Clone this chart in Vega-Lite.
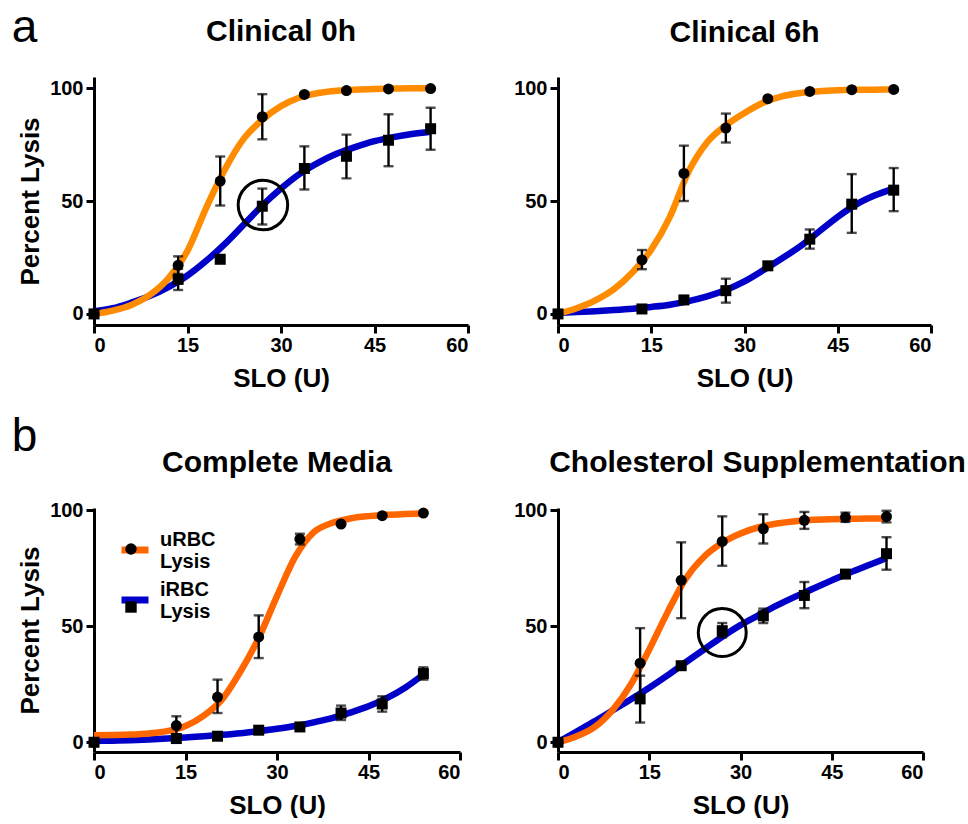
{
"$schema": "https://vega.github.io/schema/vega-lite/v6.json",
"background": "white",
"padding": {"left": 11, "top": 5, "right": 0, "bottom": 0},
"datasets": {
"curves": [
{"p":"c0","s":"iRBC Lysis","x":0,"y":1.2},{"p":"c0","s":"iRBC Lysis","x":3,"y":2.5},{"p":"c0","s":"iRBC Lysis","x":6,"y":5},{"p":"c0","s":"iRBC Lysis","x":9,"y":8},{"p":"c0","s":"iRBC Lysis","x":12,"y":12},{"p":"c0","s":"iRBC Lysis","x":15,"y":17},{"p":"c0","s":"iRBC Lysis","x":18,"y":23.5},{"p":"c0","s":"iRBC Lysis","x":21,"y":31},{"p":"c0","s":"iRBC Lysis","x":24,"y":39.5},{"p":"c0","s":"iRBC Lysis","x":27,"y":48},{"p":"c0","s":"iRBC Lysis","x":30,"y":55.5},{"p":"c0","s":"iRBC Lysis","x":33,"y":62},{"p":"c0","s":"iRBC Lysis","x":36,"y":67},{"p":"c0","s":"iRBC Lysis","x":39,"y":71},{"p":"c0","s":"iRBC Lysis","x":42,"y":74},{"p":"c0","s":"iRBC Lysis","x":45,"y":76.5},{"p":"c0","s":"iRBC Lysis","x":48,"y":78.3},{"p":"c0","s":"iRBC Lysis","x":51,"y":79.7},{"p":"c0","s":"iRBC Lysis","x":54,"y":80.7},
{"p":"c0","s":"uRBC Lysis","x":0,"y":0},{"p":"c0","s":"uRBC Lysis","x":3,"y":1.5},{"p":"c0","s":"uRBC Lysis","x":6,"y":4},{"p":"c0","s":"uRBC Lysis","x":9,"y":8.5},{"p":"c0","s":"uRBC Lysis","x":12,"y":16},{"p":"c0","s":"uRBC Lysis","x":15,"y":28},{"p":"c0","s":"uRBC Lysis","x":18,"y":47},{"p":"c0","s":"uRBC Lysis","x":21,"y":64},{"p":"c0","s":"uRBC Lysis","x":24,"y":77.5},{"p":"c0","s":"uRBC Lysis","x":27,"y":86},{"p":"c0","s":"uRBC Lysis","x":30,"y":92},{"p":"c0","s":"uRBC Lysis","x":33,"y":95.8},{"p":"c0","s":"uRBC Lysis","x":36,"y":97.8},{"p":"c0","s":"uRBC Lysis","x":39,"y":98.8},{"p":"c0","s":"uRBC Lysis","x":42,"y":99.3},{"p":"c0","s":"uRBC Lysis","x":45,"y":99.6},{"p":"c0","s":"uRBC Lysis","x":48,"y":99.8},{"p":"c0","s":"uRBC Lysis","x":51,"y":99.9},{"p":"c0","s":"uRBC Lysis","x":54,"y":99.9},
{"p":"c6","s":"iRBC Lysis","x":0,"y":0.5},{"p":"c6","s":"iRBC Lysis","x":3,"y":0.8},{"p":"c6","s":"iRBC Lysis","x":6,"y":1.2},{"p":"c6","s":"iRBC Lysis","x":9,"y":1.7},{"p":"c6","s":"iRBC Lysis","x":12,"y":2.3},{"p":"c6","s":"iRBC Lysis","x":15,"y":3.1},{"p":"c6","s":"iRBC Lysis","x":18,"y":4.1},{"p":"c6","s":"iRBC Lysis","x":21,"y":5.7},{"p":"c6","s":"iRBC Lysis","x":24,"y":7.8},{"p":"c6","s":"iRBC Lysis","x":27,"y":10.6},{"p":"c6","s":"iRBC Lysis","x":30,"y":14.4},{"p":"c6","s":"iRBC Lysis","x":33,"y":19.3},{"p":"c6","s":"iRBC Lysis","x":36,"y":24.5},{"p":"c6","s":"iRBC Lysis","x":39,"y":30},{"p":"c6","s":"iRBC Lysis","x":42,"y":36.5},{"p":"c6","s":"iRBC Lysis","x":45,"y":43},{"p":"c6","s":"iRBC Lysis","x":48,"y":48.5},{"p":"c6","s":"iRBC Lysis","x":51,"y":52.5},{"p":"c6","s":"iRBC Lysis","x":54,"y":55.5},
{"p":"c6","s":"uRBC Lysis","x":0,"y":0},{"p":"c6","s":"uRBC Lysis","x":3,"y":2.5},{"p":"c6","s":"uRBC Lysis","x":6,"y":6},{"p":"c6","s":"uRBC Lysis","x":9,"y":11},{"p":"c6","s":"uRBC Lysis","x":12,"y":18.5},{"p":"c6","s":"uRBC Lysis","x":15,"y":28.5},{"p":"c6","s":"uRBC Lysis","x":18,"y":43},{"p":"c6","s":"uRBC Lysis","x":21,"y":63},{"p":"c6","s":"uRBC Lysis","x":24,"y":76},{"p":"c6","s":"uRBC Lysis","x":27,"y":83.5},{"p":"c6","s":"uRBC Lysis","x":30,"y":89},{"p":"c6","s":"uRBC Lysis","x":33,"y":93.5},{"p":"c6","s":"uRBC Lysis","x":36,"y":96.3},{"p":"c6","s":"uRBC Lysis","x":39,"y":97.8},{"p":"c6","s":"uRBC Lysis","x":42,"y":98.6},{"p":"c6","s":"uRBC Lysis","x":45,"y":99},{"p":"c6","s":"uRBC Lysis","x":48,"y":99.2},{"p":"c6","s":"uRBC Lysis","x":51,"y":99.3},{"p":"c6","s":"uRBC Lysis","x":54,"y":99.4},
{"p":"cm","s":"iRBC Lysis","x":0,"y":0.5},{"p":"cm","s":"iRBC Lysis","x":3,"y":0.7},{"p":"cm","s":"iRBC Lysis","x":6,"y":0.9},{"p":"cm","s":"iRBC Lysis","x":9,"y":1.2},{"p":"cm","s":"iRBC Lysis","x":12,"y":1.6},{"p":"cm","s":"iRBC Lysis","x":15,"y":2.1},{"p":"cm","s":"iRBC Lysis","x":18,"y":2.6},{"p":"cm","s":"iRBC Lysis","x":21,"y":3.2},{"p":"cm","s":"iRBC Lysis","x":24,"y":3.9},{"p":"cm","s":"iRBC Lysis","x":27,"y":4.8},{"p":"cm","s":"iRBC Lysis","x":30,"y":5.8},{"p":"cm","s":"iRBC Lysis","x":33,"y":7},{"p":"cm","s":"iRBC Lysis","x":36,"y":8.6},{"p":"cm","s":"iRBC Lysis","x":39,"y":10.4},{"p":"cm","s":"iRBC Lysis","x":42,"y":12.8},{"p":"cm","s":"iRBC Lysis","x":45,"y":15.5},{"p":"cm","s":"iRBC Lysis","x":48,"y":19},{"p":"cm","s":"iRBC Lysis","x":51,"y":23.5},{"p":"cm","s":"iRBC Lysis","x":54,"y":29.2},
{"p":"cm","s":"uRBC Lysis","x":0,"y":3},{"p":"cm","s":"uRBC Lysis","x":3,"y":3.1},{"p":"cm","s":"uRBC Lysis","x":6,"y":3.3},{"p":"cm","s":"uRBC Lysis","x":9,"y":3.8},{"p":"cm","s":"uRBC Lysis","x":12,"y":4.8},{"p":"cm","s":"uRBC Lysis","x":15,"y":7},{"p":"cm","s":"uRBC Lysis","x":18,"y":11.5},{"p":"cm","s":"uRBC Lysis","x":21,"y":18.5},{"p":"cm","s":"uRBC Lysis","x":24,"y":30.5},{"p":"cm","s":"uRBC Lysis","x":27,"y":45},{"p":"cm","s":"uRBC Lysis","x":30,"y":63},{"p":"cm","s":"uRBC Lysis","x":33,"y":80},{"p":"cm","s":"uRBC Lysis","x":36,"y":90.5},{"p":"cm","s":"uRBC Lysis","x":39,"y":94.5},{"p":"cm","s":"uRBC Lysis","x":42,"y":96.5},{"p":"cm","s":"uRBC Lysis","x":45,"y":97.5},{"p":"cm","s":"uRBC Lysis","x":48,"y":98.1},{"p":"cm","s":"uRBC Lysis","x":51,"y":98.4},{"p":"cm","s":"uRBC Lysis","x":54,"y":98.6},
{"p":"cs","s":"iRBC Lysis","x":0,"y":0},{"p":"cs","s":"iRBC Lysis","x":3,"y":4.5},{"p":"cs","s":"iRBC Lysis","x":6,"y":9},{"p":"cs","s":"iRBC Lysis","x":9,"y":13.8},{"p":"cs","s":"iRBC Lysis","x":12,"y":18.5},{"p":"cs","s":"iRBC Lysis","x":15,"y":23.5},{"p":"cs","s":"iRBC Lysis","x":18,"y":28.8},{"p":"cs","s":"iRBC Lysis","x":21,"y":34.5},{"p":"cs","s":"iRBC Lysis","x":24,"y":40},{"p":"cs","s":"iRBC Lysis","x":27,"y":45.5},{"p":"cs","s":"iRBC Lysis","x":30,"y":50.5},{"p":"cs","s":"iRBC Lysis","x":33,"y":54.8},{"p":"cs","s":"iRBC Lysis","x":36,"y":59},{"p":"cs","s":"iRBC Lysis","x":39,"y":62.8},{"p":"cs","s":"iRBC Lysis","x":42,"y":66.3},{"p":"cs","s":"iRBC Lysis","x":45,"y":69.8},{"p":"cs","s":"iRBC Lysis","x":48,"y":73.2},{"p":"cs","s":"iRBC Lysis","x":51,"y":76.3},{"p":"cs","s":"iRBC Lysis","x":54,"y":79.4},
{"p":"cs","s":"uRBC Lysis","x":0,"y":0},{"p":"cs","s":"uRBC Lysis","x":3,"y":2.5},{"p":"cs","s":"uRBC Lysis","x":6,"y":6.5},{"p":"cs","s":"uRBC Lysis","x":9,"y":14},{"p":"cs","s":"uRBC Lysis","x":12,"y":25},{"p":"cs","s":"uRBC Lysis","x":15,"y":40},{"p":"cs","s":"uRBC Lysis","x":18,"y":56},{"p":"cs","s":"uRBC Lysis","x":21,"y":70.5},{"p":"cs","s":"uRBC Lysis","x":24,"y":80},{"p":"cs","s":"uRBC Lysis","x":27,"y":86},{"p":"cs","s":"uRBC Lysis","x":30,"y":90},{"p":"cs","s":"uRBC Lysis","x":33,"y":92.7},{"p":"cs","s":"uRBC Lysis","x":36,"y":94.3},{"p":"cs","s":"uRBC Lysis","x":39,"y":95.3},{"p":"cs","s":"uRBC Lysis","x":42,"y":95.9},{"p":"cs","s":"uRBC Lysis","x":45,"y":96.2},{"p":"cs","s":"uRBC Lysis","x":48,"y":96.4},{"p":"cs","s":"uRBC Lysis","x":51,"y":96.5},{"p":"cs","s":"uRBC Lysis","x":54,"y":96.5}
],
"pts": [
{"p":"c0","s":"uRBC Lysis","x":0,"y":0,"lo":0,"hi":0},{"p":"c0","s":"uRBC Lysis","x":13.5,"y":21.5,"lo":17.7,"hi":25.5},{"p":"c0","s":"uRBC Lysis","x":20.25,"y":58.8,"lo":48,"hi":69.7},{"p":"c0","s":"uRBC Lysis","x":27,"y":87.3,"lo":77.3,"hi":97.3},{"p":"c0","s":"uRBC Lysis","x":33.75,"y":97.2,"lo":97.2,"hi":97.2},{"p":"c0","s":"uRBC Lysis","x":40.5,"y":98.9,"lo":98.9,"hi":98.9},{"p":"c0","s":"uRBC Lysis","x":47.25,"y":99.6,"lo":99.6,"hi":99.6},{"p":"c0","s":"uRBC Lysis","x":54,"y":99.8,"lo":99.8,"hi":99.8},
{"p":"c0","s":"iRBC Lysis","x":0,"y":0,"lo":0,"hi":0},{"p":"c0","s":"iRBC Lysis","x":13.5,"y":15.3,"lo":10.6,"hi":20},{"p":"c0","s":"iRBC Lysis","x":20.25,"y":24.2,"lo":24.2,"hi":24.2},{"p":"c0","s":"iRBC Lysis","x":27,"y":47.7,"lo":39.6,"hi":55.5},{"p":"c0","s":"iRBC Lysis","x":33.75,"y":64.4,"lo":55.1,"hi":74.2},{"p":"c0","s":"iRBC Lysis","x":40.5,"y":69.8,"lo":60,"hi":79.4},{"p":"c0","s":"iRBC Lysis","x":47.25,"y":76.9,"lo":65.4,"hi":88.4},{"p":"c0","s":"iRBC Lysis","x":54,"y":82,"lo":72.7,"hi":91.3},
{"p":"c6","s":"uRBC Lysis","x":0,"y":0,"lo":0,"hi":0},{"p":"c6","s":"uRBC Lysis","x":13.5,"y":23.9,"lo":19.8,"hi":28.3},{"p":"c6","s":"uRBC Lysis","x":20.25,"y":62.2,"lo":50,"hi":74.5},{"p":"c6","s":"uRBC Lysis","x":27,"y":82.3,"lo":75.9,"hi":88.7},{"p":"c6","s":"uRBC Lysis","x":33.75,"y":95.3,"lo":95.3,"hi":95.3},{"p":"c6","s":"uRBC Lysis","x":40.5,"y":98.5,"lo":98.5,"hi":98.5},{"p":"c6","s":"uRBC Lysis","x":47.25,"y":99.3,"lo":99.3,"hi":99.3},{"p":"c6","s":"uRBC Lysis","x":54,"y":99.4,"lo":99.4,"hi":99.4},
{"p":"c6","s":"iRBC Lysis","x":0,"y":0,"lo":0,"hi":0},{"p":"c6","s":"iRBC Lysis","x":13.5,"y":2.2,"lo":2.2,"hi":2.2},{"p":"c6","s":"iRBC Lysis","x":20.25,"y":6.2,"lo":6.2,"hi":6.2},{"p":"c6","s":"iRBC Lysis","x":27,"y":10.3,"lo":5,"hi":15.6},{"p":"c6","s":"iRBC Lysis","x":33.75,"y":21.3,"lo":21.3,"hi":21.3},{"p":"c6","s":"iRBC Lysis","x":40.5,"y":33.1,"lo":28.9,"hi":37.4},{"p":"c6","s":"iRBC Lysis","x":47.25,"y":48.6,"lo":35.9,"hi":61.9},{"p":"c6","s":"iRBC Lysis","x":54,"y":54.8,"lo":45.5,"hi":64.6},
{"p":"cm","s":"uRBC Lysis","x":0,"y":0,"lo":0,"hi":0},{"p":"cm","s":"uRBC Lysis","x":13.5,"y":7.2,"lo":3.3,"hi":11.2},{"p":"cm","s":"uRBC Lysis","x":20.25,"y":19.5,"lo":12.6,"hi":27},{"p":"cm","s":"uRBC Lysis","x":27,"y":45.4,"lo":36.3,"hi":54.7},{"p":"cm","s":"uRBC Lysis","x":33.75,"y":87.6,"lo":85.3,"hi":89.9},{"p":"cm","s":"uRBC Lysis","x":40.5,"y":94.1,"lo":94.1,"hi":94.1},{"p":"cm","s":"uRBC Lysis","x":47.25,"y":97.7,"lo":97.7,"hi":97.7},{"p":"cm","s":"uRBC Lysis","x":54,"y":98.8,"lo":98.8,"hi":98.8},
{"p":"cm","s":"iRBC Lysis","x":0,"y":0,"lo":0,"hi":0},{"p":"cm","s":"iRBC Lysis","x":13.5,"y":1.6,"lo":1.6,"hi":1.6},{"p":"cm","s":"iRBC Lysis","x":20.25,"y":2.6,"lo":2.6,"hi":2.6},{"p":"cm","s":"iRBC Lysis","x":27,"y":5.2,"lo":5.2,"hi":5.2},{"p":"cm","s":"iRBC Lysis","x":33.75,"y":6.6,"lo":6.6,"hi":6.6},{"p":"cm","s":"iRBC Lysis","x":40.5,"y":12.6,"lo":9.6,"hi":15.8},{"p":"cm","s":"iRBC Lysis","x":47.25,"y":16.5,"lo":13.2,"hi":19.8},{"p":"cm","s":"iRBC Lysis","x":54,"y":29.6,"lo":27,"hi":32.3},
{"p":"cs","s":"uRBC Lysis","x":0,"y":0,"lo":0,"hi":0},{"p":"cs","s":"uRBC Lysis","x":13.5,"y":34.1,"lo":19,"hi":49.2},{"p":"cs","s":"uRBC Lysis","x":20.25,"y":69.8,"lo":53.5,"hi":86.2},{"p":"cs","s":"uRBC Lysis","x":27,"y":86.6,"lo":76.1,"hi":97.4},{"p":"cs","s":"uRBC Lysis","x":33.75,"y":92,"lo":85.7,"hi":98.3},{"p":"cs","s":"uRBC Lysis","x":40.5,"y":95.7,"lo":92,"hi":99.3},{"p":"cs","s":"uRBC Lysis","x":47.25,"y":97,"lo":95,"hi":99},{"p":"cs","s":"uRBC Lysis","x":54,"y":97.3,"lo":94.8,"hi":99.8},
{"p":"cs","s":"iRBC Lysis","x":0,"y":0,"lo":0,"hi":0},{"p":"cs","s":"iRBC Lysis","x":13.5,"y":18.7,"lo":8.5,"hi":28.7},{"p":"cs","s":"iRBC Lysis","x":20.25,"y":33,"lo":33,"hi":33},{"p":"cs","s":"iRBC Lysis","x":27,"y":48.1,"lo":45.2,"hi":51.4},{"p":"cs","s":"iRBC Lysis","x":33.75,"y":54.5,"lo":51.4,"hi":57.6},{"p":"cs","s":"iRBC Lysis","x":40.5,"y":63.3,"lo":57.8,"hi":69.1},{"p":"cs","s":"iRBC Lysis","x":47.25,"y":72.5,"lo":71.3,"hi":73.7},{"p":"cs","s":"iRBC Lysis","x":54,"y":81.3,"lo":74.4,"hi":88.4}
],
"hl": [{"p":"c0","x":27.1,"y":48.2},{"p":"cs","x":27,"y":47.3}]
},
"vconcat": [
{
"title": {"text": "a", "fontSize": 46, "fontWeight": "normal", "anchor": "start", "offset": -35, "dx": -6, "frame": "bounds"},
"spacing": 90, "bounds": "flush",
"resolve": {"scale": {"stroke": "independent", "shape": "independent"}, "legend": {"stroke": "independent", "shape": "independent"}},
"hconcat": [
{"width": 374, "height": 248, "title": {"text": "Clinical 0h", "offset": 28},
"layer": [
{"data": {"name": "curves"}, "transform": [{"filter": "datum.p == 'c0'"}],
"mark": {"type": "line", "strokeWidth": 6.5, "interpolate": "monotone"},
"encoding": {
"x": {"field": "x", "type": "quantitative", "scale": {"domain": [0, 60], "nice": false, "zero": false}, "axis": {"values": [0, 15, 30, 45, 60], "title": "SLO (U)", "labelPadding": 2, "titlePadding": 10}},
"y": {"field": "y", "type": "quantitative", "scale": {"domain": [-4.9, 104.9], "nice": false, "zero": false}, "axis": {"values": [0, 50, 100], "title": "Percent Lysis", "labelPadding": 3, "titlePadding": 6}},
"stroke": {"field": "s", "type": "nominal", "scale": {"domain": ["uRBC Lysis", "iRBC Lysis"], "range": ["#FF8C00", "#0000C8"]}, "legend": null}}},
{"data": {"name": "pts"}, "transform": [{"filter": "datum.p == 'c0' && datum.hi > datum.lo"}],
"mark": {"type": "errorbar", "ticks": true, "size": 10, "thickness": 2.4, "color": "black"},
"encoding": {"x": {"field": "x", "type": "quantitative", "scale": {"domain": [0, 60], "nice": false, "zero": false}, "axis": {"values": [0, 15, 30, 45, 60], "title": "SLO (U)", "labelPadding": 2, "titlePadding": 10}}, "y": {"field": "lo", "type": "quantitative", "scale": {"domain": [-4.9, 104.9], "nice": false, "zero": false}, "axis": {"values": [0, 50, 100], "title": "Percent Lysis", "labelPadding": 3, "titlePadding": 6}}, "y2": {"field": "hi"}}},
{"data": {"name": "pts"}, "transform": [{"filter": "datum.p == 'c0'"}],
"mark": {"type": "point", "filled": true, "color": "black", "size": 121, "opacity": 1},
"encoding": {"x": {"field": "x", "type": "quantitative", "scale": {"domain": [0, 60], "nice": false, "zero": false}, "axis": {"values": [0, 15, 30, 45, 60], "title": "SLO (U)", "labelPadding": 2, "titlePadding": 10}}, "y": {"field": "y", "type": "quantitative", "scale": {"domain": [-4.9, 104.9], "nice": false, "zero": false}, "axis": {"values": [0, 50, 100], "title": "Percent Lysis", "labelPadding": 3, "titlePadding": 6}}, "shape": {"field": "s", "type": "nominal", "sort": "descending", "scale": {"range": ["circle", "square"]}, "legend": null}}},
{"data": {"name": "hl"}, "transform": [{"filter": "datum.p == 'c0'"}],
"mark": {"type": "point", "filled": false, "color": "black", "strokeWidth": 3, "size": 2450, "shape": "circle", "opacity": 1},
"encoding": {"x": {"field": "x", "type": "quantitative", "scale": {"domain": [0, 60], "nice": false, "zero": false}, "axis": {"values": [0, 15, 30, 45, 60], "title": "SLO (U)", "labelPadding": 2, "titlePadding": 10}}, "y": {"field": "y", "type": "quantitative", "scale": {"domain": [-4.9, 104.9], "nice": false, "zero": false}, "axis": {"values": [0, 50, 100], "title": "Percent Lysis", "labelPadding": 3, "titlePadding": 6}}}}
]},
{"width": 373, "height": 248, "title": {"text": "Clinical 6h", "offset": 28},
"layer": [
{"data": {"name": "curves"}, "transform": [{"filter": "datum.p == 'c6'"}],
"mark": {"type": "line", "strokeWidth": 6.5, "interpolate": "monotone"},
"encoding": {
"x": {"field": "x", "type": "quantitative", "scale": {"domain": [0, 60], "nice": false, "zero": false}, "axis": {"values": [0, 15, 30, 45, 60], "title": "SLO (U)", "labelPadding": 2, "titlePadding": 10}},
"y": {"field": "y", "type": "quantitative", "scale": {"domain": [-4.9, 104.9], "nice": false, "zero": false}, "axis": {"values": [0, 50, 100], "title": null, "labelPadding": 3}},
"stroke": {"field": "s", "type": "nominal", "scale": {"domain": ["uRBC Lysis", "iRBC Lysis"], "range": ["#FF8C00", "#0000C8"]}, "legend": null}}},
{"data": {"name": "pts"}, "transform": [{"filter": "datum.p == 'c6' && datum.hi > datum.lo"}],
"mark": {"type": "errorbar", "ticks": true, "size": 10, "thickness": 2.4, "color": "black"},
"encoding": {"x": {"field": "x", "type": "quantitative", "scale": {"domain": [0, 60], "nice": false, "zero": false}, "axis": {"values": [0, 15, 30, 45, 60], "title": "SLO (U)", "labelPadding": 2, "titlePadding": 10}}, "y": {"field": "lo", "type": "quantitative", "scale": {"domain": [-4.9, 104.9], "nice": false, "zero": false}, "axis": {"values": [0, 50, 100], "title": null, "labelPadding": 3}}, "y2": {"field": "hi"}}},
{"data": {"name": "pts"}, "transform": [{"filter": "datum.p == 'c6'"}],
"mark": {"type": "point", "filled": true, "color": "black", "size": 121, "opacity": 1},
"encoding": {"x": {"field": "x", "type": "quantitative", "scale": {"domain": [0, 60], "nice": false, "zero": false}, "axis": {"values": [0, 15, 30, 45, 60], "title": "SLO (U)", "labelPadding": 2, "titlePadding": 10}}, "y": {"field": "y", "type": "quantitative", "scale": {"domain": [-4.9, 104.9], "nice": false, "zero": false}, "axis": {"values": [0, 50, 100], "title": null, "labelPadding": 3}}, "shape": {"field": "s", "type": "nominal", "sort": "descending", "scale": {"range": ["circle", "square"]}, "legend": null}}}
]}
]},
{
"title": {"text": "b", "fontSize": 46, "fontWeight": "normal", "anchor": "start", "offset": -13, "dx": -6, "frame": "bounds"},
"spacing": 98, "bounds": "flush",
"resolve": {"scale": {"stroke": "independent", "shape": "independent"}, "legend": {"stroke": "independent", "shape": "independent"}},
"hconcat": [
{"width": 366, "height": 244, "title": {"text": "Complete Media", "offset": 22},
"layer": [
{"data": {"name": "curves"}, "transform": [{"filter": "datum.p == 'cm'"}],
"mark": {"type": "line", "strokeWidth": 6.5, "interpolate": "monotone"},
"encoding": {
"x": {"field": "x", "type": "quantitative", "scale": {"domain": [0, 60], "nice": false, "zero": false}, "axis": {"values": [0, 15, 30, 45, 60], "title": "SLO (U)", "labelPadding": 2, "titlePadding": 10}},
"y": {"field": "y", "type": "quantitative", "scale": {"domain": [-4.2, 101], "nice": false, "zero": false}, "axis": {"values": [0, 50, 100], "title": "Percent Lysis", "labelPadding": 3, "titlePadding": 6}},
"stroke": {"field": "s", "type": "nominal", "scale": {"domain": ["uRBC Lysis", "iRBC Lysis"], "range": ["#FF6600", "#0000C8"]},
"legend": {"orient": "none", "legendX": 24, "legendY": 25, "title": null, "symbolType": "stroke", "symbolStrokeWidth": 7, "symbolSize": 729, "labelFontSize": 20, "labelFontWeight": "bold", "labelColor": "black", "labelExpr": "split(datum.label, ' ')", "labelBaseline": "bottom", "labelOffset": 8, "rowPadding": 8}}}},
{"data": {"name": "pts"}, "transform": [{"filter": "datum.p == 'cm' && datum.hi > datum.lo"}],
"mark": {"type": "errorbar", "ticks": true, "size": 10, "thickness": 2.4, "color": "black"},
"encoding": {"x": {"field": "x", "type": "quantitative", "scale": {"domain": [0, 60], "nice": false, "zero": false}, "axis": {"values": [0, 15, 30, 45, 60], "title": "SLO (U)", "labelPadding": 2, "titlePadding": 10}}, "y": {"field": "lo", "type": "quantitative", "scale": {"domain": [-4.2, 101], "nice": false, "zero": false}, "axis": {"values": [0, 50, 100], "title": "Percent Lysis", "labelPadding": 3, "titlePadding": 6}}, "y2": {"field": "hi"}}},
{"data": {"name": "pts"}, "transform": [{"filter": "datum.p == 'cm'"}],
"mark": {"type": "point", "filled": true, "color": "black", "size": 121, "opacity": 1},
"encoding": {"x": {"field": "x", "type": "quantitative", "scale": {"domain": [0, 60], "nice": false, "zero": false}, "axis": {"values": [0, 15, 30, 45, 60], "title": "SLO (U)", "labelPadding": 2, "titlePadding": 10}}, "y": {"field": "y", "type": "quantitative", "scale": {"domain": [-4.2, 101], "nice": false, "zero": false}, "axis": {"values": [0, 50, 100], "title": "Percent Lysis", "labelPadding": 3, "titlePadding": 6}}, "shape": {"field": "s", "type": "nominal", "sort": "descending", "scale": {"range": ["circle", "square"]},
"legend": {"orient": "none", "legendX": 31, "legendY": 35, "title": null, "labelExpr": "''", "symbolFillColor": "black", "symbolStrokeColor": "black", "symbolStrokeWidth": 0, "symbolSize": 130, "rowPadding": 46}}}}
]},
{"width": 365, "height": 244, "title": {"text": "Cholesterol Supplementation", "offset": 22, "dx": 17},
"layer": [
{"data": {"name": "curves"}, "transform": [{"filter": "datum.p == 'cs'"}],
"mark": {"type": "line", "strokeWidth": 6.5, "interpolate": "monotone"},
"encoding": {
"x": {"field": "x", "type": "quantitative", "scale": {"domain": [0, 60], "nice": false, "zero": false}, "axis": {"values": [0, 15, 30, 45, 60], "title": "SLO (U)", "labelPadding": 2, "titlePadding": 10}},
"y": {"field": "y", "type": "quantitative", "scale": {"domain": [-4.2, 101], "nice": false, "zero": false}, "axis": {"values": [0, 50, 100], "title": null, "labelPadding": 3}},
"stroke": {"field": "s", "type": "nominal", "scale": {"domain": ["uRBC Lysis", "iRBC Lysis"], "range": ["#FF6600", "#0000C8"]}, "legend": null}}},
{"data": {"name": "pts"}, "transform": [{"filter": "datum.p == 'cs' && datum.hi > datum.lo"}],
"mark": {"type": "errorbar", "ticks": true, "size": 10, "thickness": 2.4, "color": "black"},
"encoding": {"x": {"field": "x", "type": "quantitative", "scale": {"domain": [0, 60], "nice": false, "zero": false}, "axis": {"values": [0, 15, 30, 45, 60], "title": "SLO (U)", "labelPadding": 2, "titlePadding": 10}}, "y": {"field": "lo", "type": "quantitative", "scale": {"domain": [-4.2, 101], "nice": false, "zero": false}, "axis": {"values": [0, 50, 100], "title": null, "labelPadding": 3}}, "y2": {"field": "hi"}}},
{"data": {"name": "pts"}, "transform": [{"filter": "datum.p == 'cs'"}],
"mark": {"type": "point", "filled": true, "color": "black", "size": 121, "opacity": 1},
"encoding": {"x": {"field": "x", "type": "quantitative", "scale": {"domain": [0, 60], "nice": false, "zero": false}, "axis": {"values": [0, 15, 30, 45, 60], "title": "SLO (U)", "labelPadding": 2, "titlePadding": 10}}, "y": {"field": "y", "type": "quantitative", "scale": {"domain": [-4.2, 101], "nice": false, "zero": false}, "axis": {"values": [0, 50, 100], "title": null, "labelPadding": 3}}, "shape": {"field": "s", "type": "nominal", "sort": "descending", "scale": {"range": ["circle", "square"]}, "legend": null}}},
{"data": {"name": "hl"}, "transform": [{"filter": "datum.p == 'cs'"}],
"mark": {"type": "point", "filled": false, "color": "black", "strokeWidth": 3, "size": 2300, "shape": "circle", "opacity": 1},
"encoding": {"x": {"field": "x", "type": "quantitative", "scale": {"domain": [0, 60], "nice": false, "zero": false}, "axis": {"values": [0, 15, 30, 45, 60], "title": "SLO (U)", "labelPadding": 2, "titlePadding": 10}}, "y": {"field": "y", "type": "quantitative", "scale": {"domain": [-4.2, 101], "nice": false, "zero": false}, "axis": {"values": [0, 50, 100], "title": null, "labelPadding": 3}}}}
]}
]}
],
"spacing": 23,
"resolve": {"scale": {"stroke": "independent", "shape": "independent"}, "legend": {"stroke": "independent", "shape": "independent"}},
"config": {
"view": {"stroke": null},
"font": "Liberation Sans",
"axis": {"domainColor": "black", "domainWidth": 3, "tickColor": "black", "tickWidth": 3, "tickSize": 8, "labelFont": "Liberation Sans", "labelFontSize": 20, "labelFontWeight": "bold", "labelColor": "black", "titleFont": "Liberation Sans", "titleFontSize": 26, "titleFontWeight": "bold", "titleColor": "black", "grid": false},
"title": {"font": "Liberation Sans", "fontSize": 30, "fontWeight": "bold", "color": "black"},
"legend": {"labelFont": "Liberation Sans"}
}
}
